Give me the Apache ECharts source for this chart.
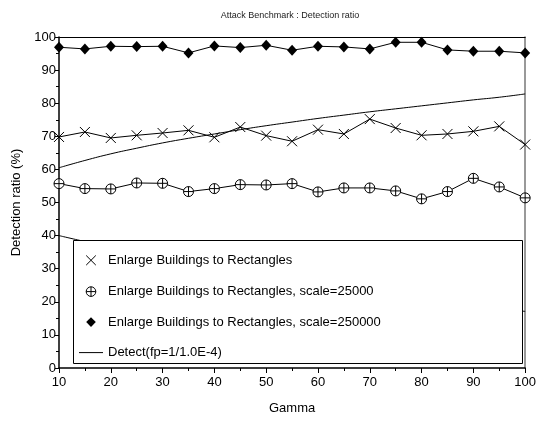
<!DOCTYPE html>
<html>
<head>
<meta charset="utf-8">
<script src="https://cdn.jsdelivr.net/npm/echarts@6/dist/echarts.min.js"></script>
<style>html,body{margin:0;padding:0;background:#fff}#c{width:539px;height:421px}</style>
</head>
<body>
<div id="c"></div>
<script>
const gamma = [10,15,20,25,30,35,40,45,50,55,60,65,70,75,80,85,90,95,100];
const rectangles = [69.8,71.3,69.5,70.3,71.0,71.8,69.7,72.8,70.2,68.5,72.0,70.7,75.2,72.5,70.3,70.7,71.5,73.0,67.5];
const scale25000 = [55.7,54.2,54.1,55.9,55.8,53.3,54.2,55.4,55.3,55.7,53.2,54.4,54.4,53.5,51.1,53.3,57.3,54.7,51.4];
const scale250000 = [96.9,96.4,97.2,97.1,97.2,95.2,97.3,96.8,97.5,96.0,97.2,97.0,96.4,98.4,98.4,96.1,95.7,95.7,95.2];
const detectUpper = [60.5,62.7,64.7,66.4,68.0,69.4,70.7,72.0,73.2,74.3,75.4,76.4,77.4,78.3,79.2,80.1,81.0,81.8,82.8];
const detectLower = [40.0,38.2,36.5,34.9,33.3,31.9,30.5,29.1,27.8,26.6,25.4,24.2,23.1,22.0,21.0,20.0,19.0,18.0,17.1];
const names = ['Enlarge Buildings to Rectangles','Enlarge Buildings to Rectangles, scale=25000','Enlarge Buildings to Rectangles, scale=250000','Detect(fp=1/1.0E-4)'];
const yTicks = [0,10,20,30,40,50,60,70,80,90,100];

const pair = arr => gamma.map((g,i)=>[g,arr[i]]);
const FONT = '"Liberation Sans", Arial, sans-serif';
const CROSS = 'path://M0,0L10,10M10,0L0,10';
const CPLUS = 'path://M0,5A5,5,0,1,1,10,5A5,5,0,1,1,0,5ZM5,0L5,10M0,5L10,5';

const chart = echarts.init(document.getElementById('c'), null, {renderer:'canvas'});
chart.setOption({
  animation:false,
  backgroundColor:'#fff',
  title:{text:'Attack Benchmark : Detection ratio', left:285, textAlign:'center', top:6,
    textStyle:{fontFamily:FONT, fontSize:9, fontWeight:'normal', color:'#222'}},
  grid:{left:59, right:12.5, top:37, bottom:53, show:false},
  xAxis:[{
    type:'value', min:10, max:100, interval:10,
    name:'Gamma', nameLocation:'middle', nameGap:34,
    nameTextStyle:{fontFamily:FONT, fontSize:13, color:'#000'},
    axisLine:{lineStyle:{color:'#000', width:1.5}},
    axisTick:{show:true, length:5, lineStyle:{color:'#000'}},
    minorTick:{show:true, splitNumber:2, length:3, lineStyle:{color:'#000'}},
    splitLine:{show:false},
    axisLabel:{fontFamily:FONT, fontSize:13, color:'#000', margin:8}
  },{
    type:'value', position:'top', min:10, max:100, interval:10,
    axisLine:{show:true, onZero:false, lineStyle:{color:'#000', width:1}},
    axisTick:{show:false}, axisLabel:{show:false}, splitLine:{show:false}
  }],
  yAxis:[{
    type:'value', min:0, max:100, interval:10,
    name:'Detection ratio (%)', nameLocation:'middle', nameGap:33,
    nameTextStyle:{fontFamily:FONT, fontSize:13, color:'#000'},
    axisLine:{show:true, lineStyle:{color:'#000', width:1.5}},
    axisTick:{show:true, length:4, lineStyle:{color:'#000'}},
    minorTick:{show:true, splitNumber:2, length:3, lineStyle:{color:'#000'}},
    splitLine:{show:false},
    axisLabel:{fontFamily:FONT, fontSize:13, color:'#000', margin:3,
      formatter: v => yTicks.includes(v) ? String(v) : ''}
  },{
    type:'value', position:'right', min:0, max:100, interval:10,
    axisLine:{show:true, onZero:false, lineStyle:{color:'#777', width:1.5}},
    axisTick:{show:false}, axisLabel:{show:false}, splitLine:{show:false}
  }],
  legend:{
    orient:'vertical', left:78, top:253, padding:0, z:10,
    itemWidth:24, itemHeight:12, itemGap:17.5,
    textStyle:{fontFamily:FONT, fontSize:13, color:'#000'},
    data:[
      {name:names[0], lineStyle:{opacity:0}, itemStyle:{borderWidth:1}},
      {name:names[1], lineStyle:{opacity:0}, itemStyle:{borderWidth:1}},
      {name:names[2], lineStyle:{opacity:0}},
      {name:names[3], itemStyle:{opacity:0}, lineStyle:{width:1}}
    ]
  },
  graphic:[{
    type:'rect', z:5, zlevel:0,
    shape:{x:73.5, y:240.5, width:449, height:123},
    style:{fill:'#fff', stroke:'#000', lineWidth:1}
  }],
  series:[
    {name:names[3], type:'line', data:pair(detectUpper), symbol:'none', smooth:true,
      lineStyle:{color:'#000', width:1}, itemStyle:{color:'#000'}},
    {name:names[3], type:'line', data:pair(detectLower), symbol:'none', smooth:true,
      lineStyle:{color:'#000', width:1}, itemStyle:{color:'#000'}},
    {name:names[0], type:'line', data:pair(rectangles), symbol:CROSS, symbolSize:10,
      lineStyle:{color:'#000', width:1}, itemStyle:{color:'none', borderColor:'#000', borderWidth:1}},
    {name:names[1], type:'line', data:pair(scale25000), symbol:CPLUS, symbolSize:10,
      lineStyle:{color:'#000', width:1}, itemStyle:{color:'#fff', borderColor:'#000', borderWidth:1}},
    {name:names[2], type:'line', data:pair(scale250000), symbol:'diamond', symbolSize:[10,11],
      lineStyle:{color:'#000', width:1}, itemStyle:{color:'#000'}}
  ]
});
</script>
</body>
</html>
